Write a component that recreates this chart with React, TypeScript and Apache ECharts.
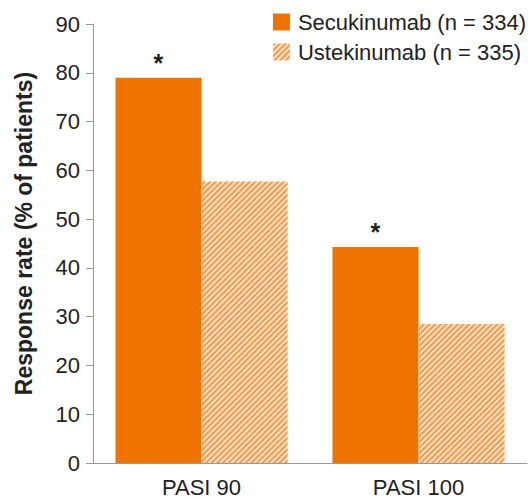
import React, { useEffect, useRef } from "react";
import * as echarts from "echarts";

const categories = ["PASI 90", "PASI 100"];
const secukinumab = [79, 44.3];
const ustekinumab = [57.7, 28.5];
const seriesNames = ["Secukinumab (n = 334)", "Ustekinumab (n = 335)"];
const yTicks = { min: 0, max: 90, interval: 10 };

export default function App() {
  const ref = useRef<HTMLDivElement>(null);
  useEffect(() => {
    const chart = echarts.init(ref.current!, null, { renderer: "svg" });
    const font = "Liberation Sans, Arial, sans-serif";
    chart.setOption({
      animation: false,
      textStyle: { fontFamily: font },
      grid: { left: 93, right: 1, top: 24, bottom: 34, containLabel: false },
      legend: {
        orient: "vertical",
        right: 2,
        top: 11,
        padding: 0,
        itemWidth: 17,
        itemHeight: 17,
        itemGap: 8,
        icon: "rect",
        textStyle: { fontSize: 22, color: "#222", fontFamily: font, padding: [0, 0, 0, 3] },
        data: seriesNames,
      },
      xAxis: {
        type: "category",
        data: categories,
        axisLine: { lineStyle: { color: "#999" } },
        axisTick: { show: false },
        axisLabel: { fontSize: 22, color: "#222", margin: 13 },
      },
      yAxis: {
        type: "value",
        min: yTicks.min,
        max: yTicks.max,
        interval: yTicks.interval,
        name: "Response rate (% of patients)",
        nameLocation: "middle",
        nameGap: 58,
        nameTextStyle: {
          fontSize: 23,
          fontWeight: "bold",
          color: "#222",
          padding: [0, 0, 0, 20],
        },
        axisLine: { show: true, lineStyle: { color: "#999" } },
        axisTick: { show: true, length: 7, lineStyle: { color: "#999" } },
        splitLine: { show: false },
        axisLabel: { fontSize: 22, color: "#222", margin: 13 },
      },
      series: [
        {
          name: seriesNames[0],
          type: "bar",
          data: secukinumab,
          barGap: "0%",
          barCategoryGap: "20.7%",
          itemStyle: { color: "#ef7300" },
          label: {
            show: true,
            position: "top",
            formatter: "*",
            fontSize: 25,
            fontWeight: "bold",
            color: "#222",
            distance: 2,
          },
        },
        {
          name: seriesNames[1],
          type: "bar",
          data: ustekinumab,
          barGap: "0%",
          barCategoryGap: "20.7%",
          itemStyle: {
            color: "#fde3cb",
            decal: {
              symbol: "rect",
              color: "#f59a48",
              dashArrayX: [1, 0],
              dashArrayY: [2, 2],
              rotation: -Math.PI / 4,
              symbolSize: 1,
            },
          },
        },
      ],
    });
    return () => chart.dispose();
  }, []);
  return (
    <div
      ref={ref}
      style={{ width: 528, height: 498, position: "absolute", left: 0, top: 0 }}
    />
  );
}
